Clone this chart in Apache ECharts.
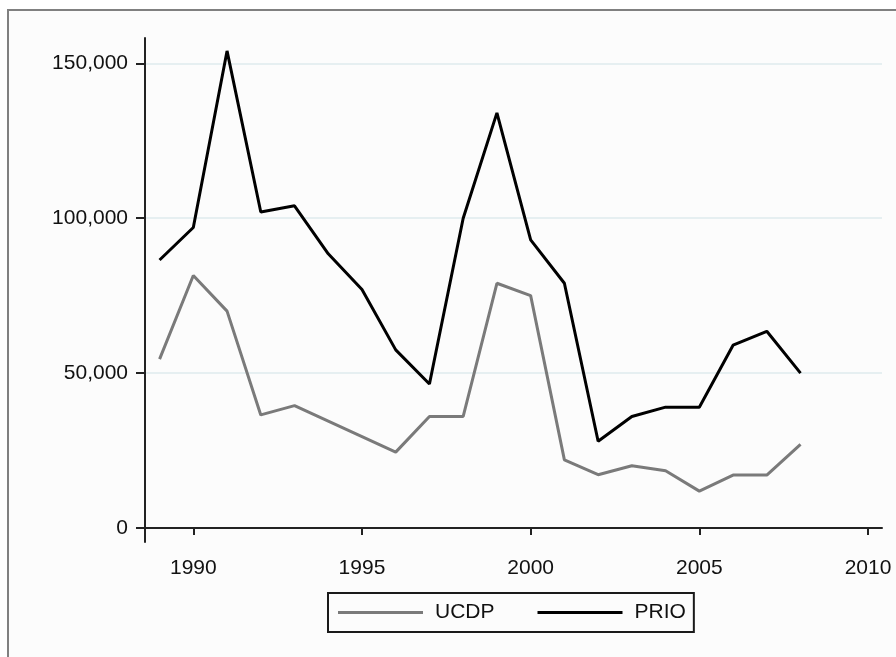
<!DOCTYPE html>
<html>
<head>
<meta charset="utf-8">
<script src="https://cdn.jsdelivr.net/npm/echarts@6/dist/echarts.min.js"></script>
<style>
html, body { margin: 0; padding: 0; background: #ffffff; }
#chart { width: 896px; height: 657px; }
</style>
</head>
<body>
<div id="chart"></div>
<script>
// years on the x axis
var years = [1989, 1990, 1991, 1992, 1993, 1994, 1995, 1996, 1997, 1998,
             1999, 2000, 2001, 2002, 2003, 2004, 2005, 2006, 2007, 2008];
// battle deaths
var ucdp = [54500, 81500, 70000, 36500, 39500, 34500, 29500, 24500, 36000, 36000,
            79000, 75000, 22000, 17200, 20100, 18500, 11900, 17100, 17100, 27000];
var prio = [86500, 97000, 154000, 102000, 104000, 88500, 77000, 57500, 46500, 100000,
            134000, 93000, 79000, 28000, 36000, 39000, 39000, 59000, 63500, 50000];
var xTicks = [1990, 1995, 2000, 2005, 2010];
var yTicks = [0, 50000, 100000, 150000];

function pairs(vals) {
    var out = [];
    for (var i = 0; i < years.length; i++) out.push([years[i], vals[i]]);
    return out;
}
function commas(v) {
    return String(v).replace(/\B(?=(\d{3})+(?!\d))/g, ',');
}

var font = 'Liberation Sans, Arial, sans-serif';
var chart = echarts.init(document.getElementById('chart'), null, { renderer: 'canvas' });
chart.setOption({
    animation: false,
    backgroundColor: '#ffffff',
    graphic: [{
        type: 'rect',
        z: -10,
        silent: true,
        shape: { x: 8, y: 10, width: 900, height: 700 },
        style: { fill: '#fcfcfc', stroke: '#808080', lineWidth: 2 }
    }],
    grid: { left: 145, right: 14, top: 38, bottom: 115, containLabel: false },
    legend: {
        left: 328,
        top: 593,
        padding: [9, 8, 9, 10],
        borderColor: '#1a1a1a',
        borderWidth: 2,
        itemWidth: 85,
        itemHeight: 3,
        itemGap: 43,
        icon: 'rect',
        textStyle: { fontFamily: font, fontSize: 21, color: '#111', padding: [0, 0, 0, 7] },
        data: ['UCDP', 'PRIO']
    },
    xAxis: {
        type: 'value',
        min: 1988.568,
        max: 2010.415,
        axisLine: { lineStyle: { color: '#222', width: 2 } },
        axisTick: { length: 7, lineStyle: { color: '#222', width: 2 }, customValues: xTicks },
        axisLabel: {
            customValues: xTicks, margin: 16, fontFamily: font, fontSize: 21, color: '#111',
            formatter: function (v) { return String(v); }
        },
        splitLine: { show: false }
    },
    yAxis: {
        type: 'value',
        min: -4520,
        max: 158170,
        axisLine: { show: true, lineStyle: { color: '#222', width: 2 } },
        axisTick: { show: true, length: 9, lineStyle: { color: '#222', width: 2 }, customValues: yTicks },
        axisLabel: {
            customValues: yTicks, margin: 17, fontFamily: font, fontSize: 21, color: '#111',
            formatter: function (v) { return commas(v); }
        },
        splitLine: { show: true, lineStyle: { color: '#e6eff1', width: 2 } }
    },
    series: [
        {
            name: 'UCDP',
            type: 'line',
            data: pairs(ucdp),
            symbol: 'none',
            color: '#7a7a7a',
            lineStyle: { color: '#7a7a7a', width: 3 }
        },
        {
            name: 'PRIO',
            type: 'line',
            data: pairs(prio),
            symbol: 'none',
            color: '#000000',
            lineStyle: { color: '#000000', width: 3 }
        }
    ]
});
</script>
</body>
</html>
